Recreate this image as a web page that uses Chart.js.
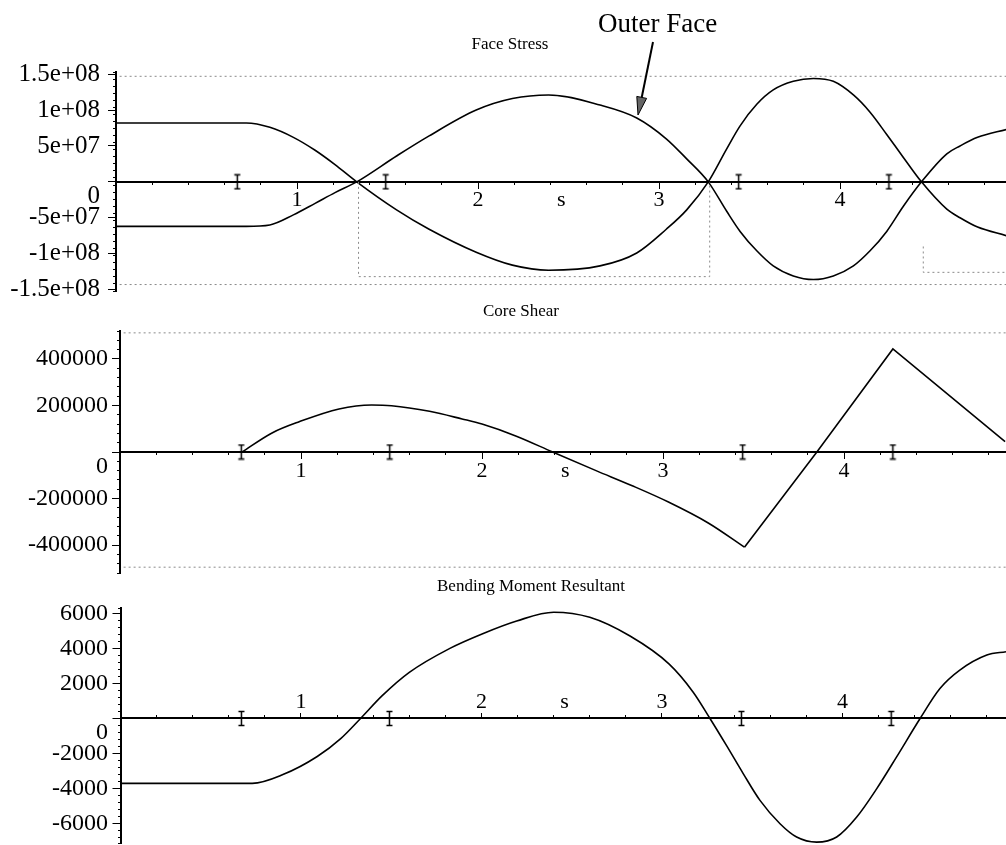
<!DOCTYPE html>
<html>
<head>
<meta charset="utf-8">
<script src="https://cdn.jsdelivr.net/npm/chart.js@4.4.1/dist/chart.umd.min.js"></script>
<style>
  html, body { margin: 0; padding: 0; background: #fff; width: 1006px; height: 845px; overflow: hidden; position: relative; }
  canvas { position: absolute; left: 0; }
  .note { position: absolute; font-family: "Liberation Serif", "Times New Roman", serif; font-size: 27px; line-height: 27px; color: #000; white-space: nowrap; z-index: 5; }
  #arrow { position: absolute; left: 0; top: 0; z-index: 5; pointer-events: none; }
</style>
</head>
<body>
<canvas id="c1" style="top:20px"></canvas>
<canvas id="c2" style="top:290px"></canvas>
<canvas id="c3" style="top:566px"></canvas>
<div class="note" style="left:598px; top:10px">Outer Face</div>
<svg id="arrow" width="1006" height="200">
  <line x1="653" y1="42" x2="641.7" y2="97.5" stroke="#000" stroke-width="2"/>
  <polygon points="638,115 646.6,98.4 636.8,96.4" fill="#666" stroke="#000" stroke-width="1"/>
</svg>
<script>
// ================= DATA =================
// shared x axis (s)
const xTickValues = [1, 2, 2.46, 3, 4];
const xTickLabels = ['1', '2', 's', '3', '4'];
const jointX = [0.67, 1.49, 3.44, 4.27];
const frameX = [0.02, 4.92];

// ---- Face Stress ----
const stressTitle = 'Face Stress';
const stressX = [0, 0.72, 0.85, 0.98, 1.10, 1.21, 1.33,
                 1.55, 1.73, 1.99, 2.19, 2.39, 2.674, 2.877, 3.04, 3.153, 3.272,
                 3.374, 3.448, 3.54, 3.631, 3.742, 3.853, 3.963, 4.074, 4.166, 4.258, 4.35, 4.45,
                 4.59, 4.663, 4.76, 4.92];
const innerFaceStress = [82e6, 82e6, 76e6, 62e6, 44e6, 24e6, 0,
                         -39e6, -66e6, -98e6, -116e6, -123e6, -117e6, -99e6, -66e6, -39e6, 0,
                         46e6, 78e6, 108e6, 128e6, 140e6, 144e6, 140e6, 121e6, 97e6, 66e6, 34e6, 0,
                         -38e6, -50e6, -63e6, -75e6];
const outerFaceStress = [-62e6, -62e6, -60e6, -46e6, -30e6, -15e6, 0,
                         36e6, 64e6, 100e6, 116e6, 121e6, 107e6, 89e6, 60e6, 32e6, 0,
                         -41e6, -69e6, -96e6, -117e6, -131e6, -136e6, -131e6, -117e6, -96e6, -69e6, -34e6, 0,
                         39e6, 50e6, 62e6, 73e6];
const stressTickValues = [-1.5e8, -1e8, -5e7, 0, 5e7, 1e8, 1.5e8];
const stressTickLabels = ['-1.5e+08', '-1e+08', '-5e+07', '0', '5e+07', '1e+08', '1.5e+08'];
const stressFrameY = [1.47e8, -1.43e8];
const stressGuideX = [1.34, 1.34, 3.28, 3.28];
const stressGuideY = [0, -1.32e8, -1.32e8, 0];
const stressGuide2X = [4.46, 4.46, 4.92];
const stressGuide2Y = [-0.9e8, -1.26e8, -1.26e8];

// ---- Core Shear ----
const shearTitle = 'Core Shear';
const shearX = [0, 0.674, 0.84, 0.99, 1.21, 1.39, 1.50, 1.71, 1.89, 2.0, 2.19, 2.39, 2.63, 2.83, 3.03, 3.25, 3.45, 3.85, 4.27, 4.89];
const shearY = [0, 0, 82e3, 130e3, 185e3, 202e3, 199e3, 175e3, 142e3, 120e3, 68e3, 0, -80e3, -145e3, -215e3, -305e3, -409e3, 0, 443e3, 45e3];
const shearKinks = [0.674, 3.45];
const shearTickValues = [-4e5, -2e5, 0, 2e5, 4e5];
const shearTickLabels = ['-400000', '-200000', '0', '200000', '400000'];
const shearFrameY = [5.12e5, -4.95e5];

// ---- Bending Moment Resultant ----
const momentTitle = 'Bending Moment Resultant';
const momentX = [0, 0.73, 0.90, 1.09, 1.22, 1.33,
                 1.45, 1.60, 1.825, 2.01, 2.195, 2.40,
                 2.60, 2.823, 3.04, 3.173, 3.266,
                 3.358, 3.45, 3.543, 3.654, 3.746, 3.857,
                 3.968, 4.079, 4.19, 4.30, 4.43,
                 4.54, 4.65, 4.80, 4.906];
const momentY = [-3700, -3700, -3200, -2170, -1150, 0,
                 1300, 2630, 4000, 4850, 5560, 6060,
                 5770, 4700, 3100, 1500, 0,
                 -1550, -3140, -4670, -6000, -6760, -7050,
                 -6760, -5620, -4000, -2190, 0,
                 1710, 2760, 3620, 3810];
const momentTickValues = [-6000, -4000, -2000, 0, 2000, 4000, 6000];
const momentTickLabels = ['-6000', '-4000', '-2000', '0', '2000', '4000', '6000'];

// ================= HELPERS =================
const SERIF = '"Liberation Serif", "Times New Roman", serif';
const PLOT_RIGHT = 1006;
const pts = (xs, ys) => xs.map((x, i) => ({ x, y: ys[i] }));

function splitAt(xs, ys, kinks) {
  const out = [];
  let cur = [];
  xs.forEach((x, i) => {
    cur.push({ x, y: ys[i] });
    if (kinks.includes(x)) { out.push(cur); cur = [{ x, y: ys[i] }]; }
  });
  if (cur.length > 1) out.push(cur);
  return out;
}

function makeIBeam() {
  const c = document.createElement('canvas');
  c.width = 9; c.height = 17;
  const g = c.getContext('2d');
  g.strokeStyle = '#000'; g.lineWidth = 1.5;
  g.beginPath();
  g.moveTo(4.5, 1.5); g.lineTo(4.5, 15.5);
  g.moveTo(1.5, 1.5); g.lineTo(7.5, 1.5);
  g.moveTo(1.5, 15.5); g.lineTo(7.5, 15.5);
  g.stroke();
  return c;
}
const iBeam = makeIBeam();

function curveDS(data, smooth) {
  return { data, borderColor: '#000', borderWidth: 1.6, pointRadius: 0, fill: false,
           tension: smooth ? 0.4 : 0, cubicInterpolationMode: smooth ? 'monotone' : 'default',
           xAxisID: 'x', yAxisID: 'y' };
}
function guideDS(data) {
  return { data, borderColor: '#8a8a8a', borderWidth: 1, borderDash: [2, 3], pointRadius: 0, fill: false,
           tension: 0, xAxisID: 'x', yAxisID: 'y' };
}
function jointDS() {
  return { data: jointX.map(x => ({ x, y: 0 })), showLine: false, pointStyle: iBeam, pointRadius: 5,
           xAxisID: 'x', yAxisID: 'y' };
}

function makePanel(id, p) {
  // canvas is 2*titleCenter wide so the title is centred there;
  // an invisible right-hand box keeps the plot's right edge at PLOT_RIGHT
  const W = Math.round(2 * p.titleCenter);
  const rightGap = W - PLOT_RIGHT;
  const cv = document.getElementById(id);
  cv.width = W; cv.height = p.height;
  return new Chart(cv, {
    type: 'line',
    data: { datasets: p.datasets },
    options: {
      responsive: false, animation: false, devicePixelRatio: 1,
      layout: { padding: { top: 0, bottom: 26, left: 0, right: 0 } },
      plugins: {
        legend: { display: false }, tooltip: { enabled: false },
        title: { display: true, text: p.title, color: '#000',
                 font: { family: SERIF, size: 17, weight: 'normal', lineHeight: 1.2 },
                 padding: { top: p.titleTop, bottom: p.titleBottom } }
      },
      scales: {
        x: {
          type: 'linear', axis: 'x', min: 0, max: p.xMax, position: { y: 0 },
          afterBuildTicks: s => { s.ticks = xTickValues.map(v => ({ value: v })); },
          ticks: { autoSkip: false, maxRotation: 0, padding: p.xPad, color: '#000',
                   font: { family: SERIF, size: 22 },
                   callback: v => { const i = xTickValues.indexOf(v); return i < 0 ? '' : xTickLabels[i]; } },
          grid: { drawOnChartArea: false, drawTicks: true, tickLength: p.xTickLen, tickWidth: 1,
                  tickColor: c => (c.tick && c.tick.value === 2.46) ? 'rgba(0,0,0,0)' : '#000' },
          border: { display: true, color: '#000', width: 2 }
        },
        xm: {
          type: 'linear', axis: 'x', min: 0, max: p.xMax, position: { y: 0 },
          ticks: { stepSize: 0.2, autoSkip: false, maxRotation: 0, padding: 0, font: { size: 1 }, callback: () => '' },
          grid: { drawOnChartArea: false, drawTicks: true, tickLength: p.xMinorLen, tickWidth: 1, tickColor: '#000' },
          border: { display: false }
        },
        y: {
          type: 'linear', axis: 'y', position: 'left', min: p.yMin, max: p.yMax,
          afterFit: s => { s.width = p.left; },
          afterBuildTicks: s => { s.ticks = p.yTicks.map(v => ({ value: v })); },
          ticks: { autoSkip: false, padding: p.yPad, color: '#000', font: { family: SERIF, size: p.yFont },
                   callback: v => { const i = p.yTicks.indexOf(v); const l = i < 0 ? '' : p.yLabels[i]; return v === 0 ? ['', l] : l; } },
          grid: { drawOnChartArea: false, drawTicks: true, tickLength: 8, tickWidth: 1, tickColor: '#000' },
          border: { display: true, color: '#000', width: 2 }
        },
        ym: {
          type: 'linear', axis: 'y', min: p.yMin, max: p.yMax, position: { x: 0 },
          ticks: { stepSize: p.yMinor, autoSkip: false, padding: 0, font: { size: 1 }, callback: () => '' },
          grid: { drawOnChartArea: false, drawTicks: true, tickLength: 3, tickWidth: 1, tickColor: '#000' },
          border: { display: false }
        },
        yr: {
          type: 'linear', axis: 'y', position: 'right', min: p.yMin, max: p.yMax,
          afterFit: s => { s.width = rightGap; },
          ticks: { display: false },
          grid: { display: false, drawTicks: false },
          border: { display: false }
        }
      }
    }
  });
}

// ================= PANELS =================
makePanel('c1', {
  title: stressTitle, titleTop: 14.8, titleBottom: 16.8, titleCenter: 510, height: 297,
  left: 116, xMax: 4.917, yMin: -1.52e8, yMax: 1.53e8, yMinor: 1e7,
  yTicks: stressTickValues, yLabels: stressTickLabels, yFont: 25, yPad: 8,
  xPad: -1.2, xTickLen: 6, xMinorLen: 3,
  datasets: [
    guideDS(frameX.map(x => ({ x, y: stressFrameY[0] }))),
    guideDS(frameX.map(x => ({ x, y: stressFrameY[1] }))),
    guideDS(pts(stressGuideX, stressGuideY)),
    guideDS(pts(stressGuide2X, stressGuide2Y)),
    curveDS(pts(stressX, innerFaceStress), true),
    curveDS(pts(stressX, outerFaceStress), true),
    jointDS()
  ]
});

makePanel('c2', {
  title: shearTitle, titleTop: 11.3, titleBottom: 9.3, titleCenter: 521, height: 309,
  left: 120, xMax: 4.895, yMin: -5.2e5, yMax: 5.2e5, yMinor: 4e4,
  yTicks: shearTickValues, yLabels: shearTickLabels, yFont: 24, yPad: 4,
  xPad: -0.2, xTickLen: 6, xMinorLen: 3,
  datasets: [
    guideDS(frameX.map(x => ({ x, y: shearFrameY[0] }))),
    guideDS(frameX.map(x => ({ x, y: shearFrameY[1] }))),
    ...splitAt(shearX, shearY, shearKinks).map((seg, i) => curveDS(seg, i === 1)),
    jointDS()
  ]
});

makePanel('c3', {
  title: momentTitle, titleTop: 10.8, titleBottom: 10.8, titleCenter: 531, height: 303,
  left: 120.5, xMax: 4.906, yMin: -7100, yMax: 6300, yMinor: 400,
  yTicks: momentTickValues, yLabels: momentTickLabels, yFont: 24, yPad: 4.5,
  xPad: -23.2, xTickLen: -6, xMinorLen: -3,
  datasets: [
    curveDS(pts(momentX, momentY), true),
    jointDS()
  ]
});
</script>
</body>
</html>
